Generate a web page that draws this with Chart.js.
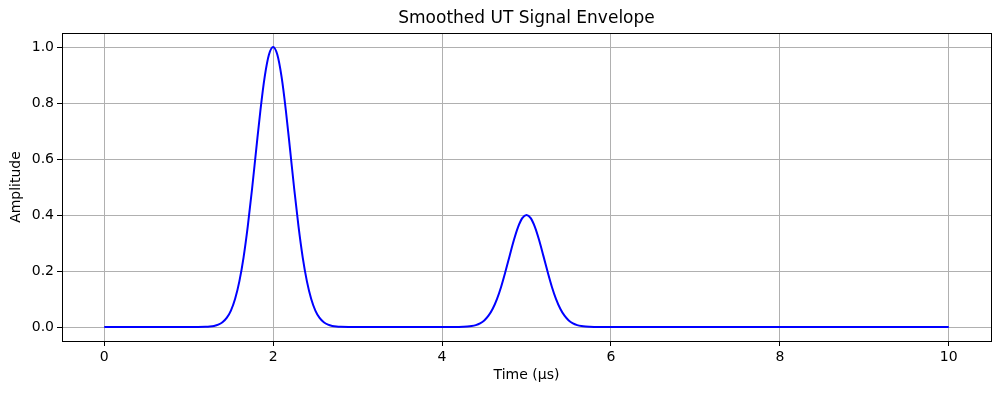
<!DOCTYPE html>
<html>
<head>
<meta charset="utf-8">
<script src="https://cdn.jsdelivr.net/npm/chart.js@4"></script>
<style>
  html, body { margin: 0; padding: 0; background: #fff; }
  #wrap { width: 1001px; height: 393px; }
</style>
</head>
<body>
<div id="wrap"><canvas id="myChart" width="1001" height="393"></canvas></div>
<script>
// values
var timeUs = [
  0, 0.5, 1.0, 1.1, 1.2, 1.25, 1.3, 1.35, 1.4, 1.45, 1.5, 1.55, 1.6, 1.65, 1.7, 1.75, 1.8, 1.85, 1.9, 1.95,
  2.0, 2.05, 2.1, 2.15, 2.2, 2.25, 2.3, 2.35, 2.4, 2.45, 2.5, 2.55, 2.6, 2.65, 2.7, 2.75, 2.8, 2.9, 3.0,
  3.5, 4.0, 4.1, 4.2, 4.25, 4.3, 4.35, 4.4, 4.45, 4.5, 4.55, 4.6, 4.65, 4.7, 4.75, 4.8, 4.85, 4.9, 4.95,
  5.0, 5.05, 5.1, 5.15, 5.2, 5.25, 5.3, 5.35, 5.4, 5.45, 5.5, 5.55, 5.6, 5.65, 5.7, 5.75, 5.8, 5.9, 6.0,
  7, 8, 9, 10
];
var amplitude = [
  0, 0, 0, 0.0001, 0.0007, 0.0017, 0.0039, 0.0083, 0.0169, 0.0324, 0.0588, 0.101, 0.163, 0.249, 0.360, 0.492, 0.635, 0.775, 0.893, 0.972,
  1.0, 0.972, 0.893, 0.775, 0.635, 0.492, 0.360, 0.249, 0.163, 0.101, 0.0588, 0.0324, 0.0169, 0.0083, 0.0039, 0.0017, 0.0007, 0.0001, 0,
  0, 0, 0.0001, 0.0003, 0.0007, 0.0015, 0.0033, 0.0068, 0.013, 0.0235, 0.0404, 0.0652, 0.0996, 0.144, 0.197, 0.254, 0.310, 0.357, 0.389,
  0.400, 0.389, 0.357, 0.310, 0.254, 0.197, 0.144, 0.0996, 0.0652, 0.0404, 0.0235, 0.013, 0.0068, 0.0033, 0.0015, 0.0007, 0.0003, 0.0001, 0,
  0, 0, 0, 0
];
var xTicks = [0, 2, 4, 6, 8, 10];
var yTicks = [0.0, 0.2, 0.4, 0.6, 0.8, 1.0];
var chartTitle = 'Smoothed UT Signal Envelope';

var points = [];
for (var i = 0; i < timeUs.length; i++) {
  points.push({ x: timeUs[i], y: amplitude[i] });
}

var font = 'DejaVu Sans';

// black frame around the plot area and a title centred over the axes, like matplotlib
var frame = {
  id: 'frame',
  afterDraw: function(chart) {
    var a = chart.chartArea;
    var c = chart.ctx;
    c.save();
    c.strokeStyle = '#000';
    c.lineWidth = 1;
    c.strokeRect(Math.round(a.left) + 0.5, Math.round(a.top) + 0.5, Math.round(a.right - a.left), Math.round(a.bottom - a.top));
    c.fillStyle = '#000';
    c.font = '17px "' + font + '"';
    c.textAlign = 'center';
    c.textBaseline = 'alphabetic';
    c.fillText(chartTitle, (a.left + a.right) / 2, a.top - 10);
    c.restore();
  }
};

var ctx = document.getElementById('myChart').getContext('2d');
var myChart = new Chart(ctx, {
  type: 'line',
  data: {
    datasets: [{
      label: 'Envelope',
      data: points,
      borderColor: '#0000ff',
      borderWidth: 2,
      pointRadius: 0,
      fill: false,
      cubicInterpolationMode: 'monotone'
    }]
  },
  options: {
    responsive: false,
    animation: false,
    layout: { padding: { left: 0, right: 10, top: 33, bottom: 0 } },
    plugins: {
      legend: { display: false },
      tooltip: { enabled: false },
      title: { display: false }
    },
    scales: {
      x: {
        type: 'linear',
        min: -0.5,
        max: 10.5,
        afterBuildTicks: function(scale) {
          scale.ticks = xTicks.map(function(v) { return { value: v }; });
        },
        afterFit: function(scale) { scale.height = 52; },
        ticks: {
          color: '#000',
          font: { family: font, size: 14 },
          padding: 3,
          maxRotation: 0,
          callback: function(v) { return String(v); }
        },
        grid: { color: '#b0b0b0', lineWidth: 1, tickLength: 5, tickColor: '#000' },
        border: { color: '#000' },
        title: {
          display: true,
          text: 'Time (µs)',
          color: '#000',
          font: { family: font, size: 14 },
          padding: { top: 4, bottom: 9 }
        }
      },
      y: {
        min: -0.05,
        max: 1.05,
        afterBuildTicks: function(scale) {
          scale.ticks = yTicks.map(function(v) { return { value: v }; });
        },
        afterFit: function(scale) { scale.width = 62; },
        ticks: {
          color: '#000',
          font: { family: font, size: 14 },
          padding: 3,
          callback: function(v) { return Number(v).toFixed(1); }
        },
        grid: { color: '#b0b0b0', lineWidth: 1, tickLength: 5, tickColor: '#000' },
        border: { color: '#000' },
        title: {
          display: true,
          text: 'Amplitude',
          color: '#000',
          font: { family: font, size: 14 },
          padding: { top: 8, bottom: 4 }
        }
      }
    }
  },
  plugins: [frame]
});
</script>
</body>
</html>
